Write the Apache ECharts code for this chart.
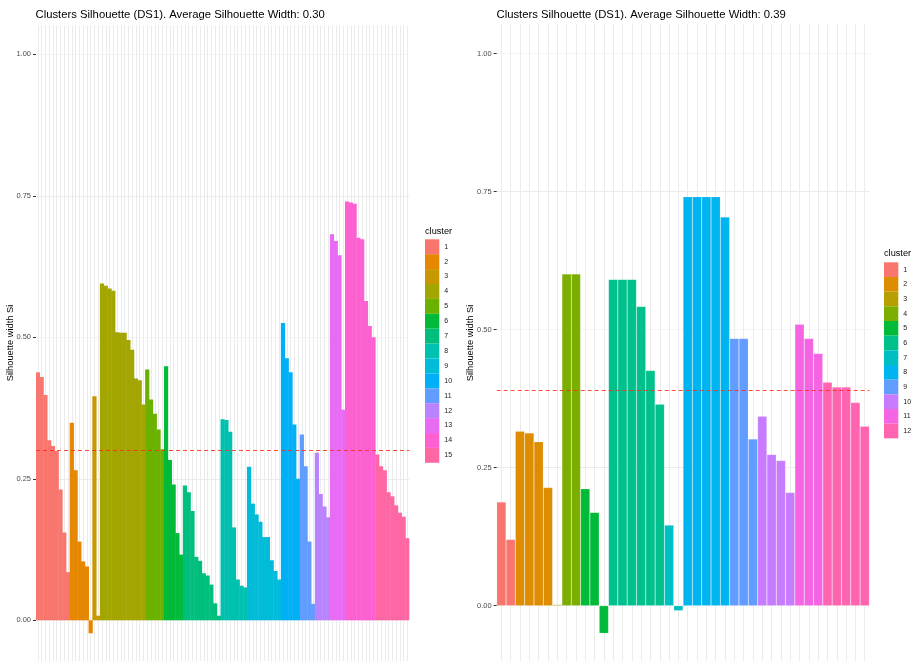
<!DOCTYPE html>
<html>
<head>
<meta charset="utf-8">
<script src="https://cdn.jsdelivr.net/npm/echarts@6/dist/echarts.min.js"></script>
<style>
html,body{margin:0;padding:0;background:#fff;}
#chart{width:915px;height:661px;}
</style>
</head>
<body>
<div id="chart"></div>
<script>
// ---------- DATA ----------
const leftTitle = 'Clusters Silhouette (DS1). Average Silhouette Width: 0.30';
const rightTitle = 'Clusters Silhouette (DS1). Average Silhouette Width: 0.39';
const yAxisTitle = 'Silhouette width Si';
const legendTitle = 'cluster';
const yTickValues = [0, 0.25, 0.5, 0.75, 1];

// Left panel (15 clusters): silhouette widths per observation, sorted within cluster
const leftC1 = [0.438, 0.430, 0.398, 0.318, 0.308, 0.299, 0.231, 0.155, 0.085];
const leftC2 = [0.349, 0.265, 0.139, 0.104, 0.095, -0.023];
const leftC3 = [0.396, 0.008];
const leftC4 = [0.595, 0.591, 0.586, 0.582, 0.509, 0.508, 0.508, 0.495, 0.478, 0.427, 0.424, 0.381];
const leftC5 = [0.443, 0.390, 0.365, 0.337, 0.302];
const leftC6 = [0.449, 0.283, 0.240, 0.154, 0.116];
const leftC7 = [0.238, 0.226, 0.193, 0.112, 0.105, 0.083, 0.079, 0.063, 0.030, 0.008];
const leftC8 = [0.355, 0.354, 0.333, 0.164, 0.072, 0.061, 0.058];
const leftC9 = [0.271, 0.206, 0.187, 0.174, 0.147, 0.147, 0.106, 0.087, 0.072];
const leftC10 = [0.525, 0.463, 0.438, 0.346, 0.250];
const leftC11 = [0.328, 0.272, 0.139, 0.029];
const leftC12 = [0.296, 0.223, 0.201, 0.182];
const leftC13 = [0.682, 0.670, 0.645, 0.372];
const leftC14 = [0.740, 0.738, 0.736, 0.676, 0.673, 0.564, 0.520, 0.500];
const leftC15 = [0.293, 0.272, 0.265, 0.226, 0.219, 0.203, 0.190, 0.183, 0.145];
const leftAverage = 0.305;

// Right panel (12 clusters)
const rightC1 = [0.188, 0.120];
const rightC2 = [0.316, 0.313, 0.297, 0.214];
const rightC3 = [0.002];
const rightC4 = [0.601, 0.601];
const rightC5 = [0.212, 0.169, -0.050];
const rightC6 = [0.591, 0.591, 0.591, 0.542, 0.426, 0.365];
const rightC7 = [0.146, -0.009];
const rightC8 = [0.741, 0.741, 0.741, 0.741, 0.704];
const rightC9 = [0.484, 0.484, 0.302];
const rightC10 = [0.343, 0.274, 0.263, 0.205];
const rightC11 = [0.510, 0.484, 0.457];
const rightC12 = [0.405, 0.396, 0.396, 0.368, 0.325];
const rightAverage = 0.39;

const leftClusters = [leftC1, leftC2, leftC3, leftC4, leftC5, leftC6, leftC7, leftC8,
  leftC9, leftC10, leftC11, leftC12, leftC13, leftC14, leftC15];
const rightClusters = [rightC1, rightC2, rightC3, rightC4, rightC5, rightC6, rightC7,
  rightC8, rightC9, rightC10, rightC11, rightC12];

// ---------- STYLES ----------
const leftColors = ['#F8766D', '#E58700', '#C99800', '#A3A500', '#6BB100', '#00BA38', '#00BF7D',
  '#00C0AF', '#00BCD8', '#00B0F6', '#619CFF', '#B983FF', '#E76BF3', '#FD61D1', '#FF67A4'];
const rightColors = ['#F8766D', '#DE8C00', '#B79F00', '#7CAE00', '#00BA38', '#00C08B', '#00BFC4',
  '#00B4F0', '#619CFF', '#C77CFF', '#F564E3', '#FF64B0'];
const FONT = '"Liberation Sans", Arial, Helvetica, sans-serif';
const MAJOR = '#ebebeb', MINOR = '#f4f4f4';

// ---------- BUILD ----------
const chart = echarts.init(document.getElementById('chart'), null, {renderer: 'canvas'});

function panel(clusters, colors, gi, avg, prefix, grid, legendPos, barStyle) {
  const n = clusters.reduce((s, c) => s + c.length, 0);
  const cats = Array.from({length: n}, (_, i) => String(i + 1));
  const halfCats = Array.from({length: 2 * n + 1}, (_, i) => String(i));
  const series = [];
  let offset = 0;
  clusters.forEach((vals, k) => {
    const data = new Array(n).fill('-');
    vals.forEach((v, j) => { data[offset + j] = v; });
    offset += vals.length;
    const s = {
      name: prefix + (k + 1), type: 'bar', xAxisIndex: gi * 2, yAxisIndex: gi,
      stack: 'stack' + gi, barCategoryGap: '0%', barGap: '0%', barWidth: barStyle.width, data: data,
      itemStyle: Object.assign({color: colors[k]}, barStyle.border),
      emphasis: {disabled: true}, silent: true, z: 2
    };
    if (k === 0) {
      s.markLine = {
        silent: true, symbol: ['none', 'none'], label: {show: false},
        lineStyle: {color: '#ff2a1a', type: [4, 3], width: 1, opacity: 0.85},
        data: [{yAxis: avg}], z: 5
      };
    }
    series.push(s);
  });
  const xAxes = [
    {type: 'category', gridIndex: gi, data: cats, boundaryGap: true, show: true,
     axisLine: {show: false}, axisTick: {show: false}, axisLabel: {show: false},
     splitLine: {show: false}},
    {type: 'category', gridIndex: gi, data: halfCats, boundaryGap: false, show: true,
     axisLine: {show: false}, axisTick: {show: false}, axisLabel: {show: false},
     splitLine: {show: true, interval: (idx) => idx % 2 === 1,
       lineStyle: {color: MAJOR, width: 1}}}
  ];
  const yAxis = {
    type: 'value', gridIndex: gi, min: -0.125, max: grid.ymax, interval: 0.125,
    axisLine: {show: false},
    axisTick: {show: true, length: 3, lineStyle: {color: '#333', width: 1}, customValues: yTickValues},
    axisLabel: {show: true, margin: 5, fontSize: 7.5, color: '#4d4d4d', fontFamily: FONT,
      customValues: yTickValues,
      formatter: (v) => (v >= -1e-9 && v <= 1 + 1e-9 && Math.abs(v * 4 - Math.round(v * 4)) < 1e-6) ? v.toFixed(2) : ''},
    splitLine: {show: true,
      lineStyle: {width: 1, color: [MINOR, MAJOR, MINOR, MAJOR, MINOR, MAJOR, MINOR, MAJOR, MINOR, MAJOR, 'rgba(0,0,0,0)']}}
  };
  const legend = {
    orient: 'vertical', left: legendPos.left, top: legendPos.top, padding: 0,
    itemWidth: 14.3, itemHeight: legendPos.itemHeight, itemGap: 0, icon: 'rect', selectedMode: false,
    data: clusters.map((_, k) => prefix + (k + 1)),
    formatter: (name) => name.slice(prefix.length),
    itemStyle: {borderWidth: 0},
    textStyle: {fontSize: 7, color: '#1a1a1a', fontFamily: FONT, padding: [0, 0, 0, 0]}
  };
  return {series, xAxes, yAxis, legend, grid: {left: grid.left, top: grid.top, width: grid.width,
    height: grid.height, containLabel: false, outerBoundsMode: 'none'}};
}

const L = panel(leftClusters, leftColors, 0, leftAverage, 'L',
  {left: 36, top: 25.3, width: 373.3, height: 665.7, ymax: 1.0512},
  {left: 425, top: 239.3, itemHeight: 14.9},
  {width: '112%', border: {borderWidth: 0}});
const R = panel(rightClusters, rightColors, 1, rightAverage, 'R',
  {left: 496.7, top: 24.7, width: 372.7, height: 650, ymax: 1.0525},
  {left: 884, top: 262.3, itemHeight: 14.67},
  {width: '100%', border: {borderColor: 'rgba(255,255,255,0.3)', borderWidth: 0.5}});

function txt(text, x, y, size, opts) {
  return Object.assign({type: 'text', x: x, y: y, silent: true,
    style: {text: text, fontSize: size, fontFamily: FONT, fill: '#000',
      textAlign: 'left', textVerticalAlign: 'middle'}}, opts || {});
}

const option = {
  animation: false,
  backgroundColor: '#ffffff',
  grid: [L.grid, R.grid],
  xAxis: [...L.xAxes, ...R.xAxes],
  yAxis: [L.yAxis, R.yAxis],
  legend: [L.legend, R.legend],
  series: [...L.series, ...R.series],
  graphic: [
    txt(leftTitle, 35.5, 14.5, 11.3),
    txt(rightTitle, 496.5, 14.5, 11.3),
    {type: 'text', x: 10, y: 343, rotation: Math.PI / 2, silent: true,
      style: {text: yAxisTitle, fontSize: 9.3, fontFamily: FONT, fill: '#000', textAlign: 'center', textVerticalAlign: 'middle'}},
    {type: 'text', x: 470, y: 343, rotation: Math.PI / 2, silent: true,
      style: {text: yAxisTitle, fontSize: 9.3, fontFamily: FONT, fill: '#000', textAlign: 'center', textVerticalAlign: 'middle'}},
    txt(legendTitle, 425, 231.7, 9.2),
    txt(legendTitle, 884, 253.3, 9.2)
  ]
};
chart.setOption(option);
</script>
</body>
</html>
